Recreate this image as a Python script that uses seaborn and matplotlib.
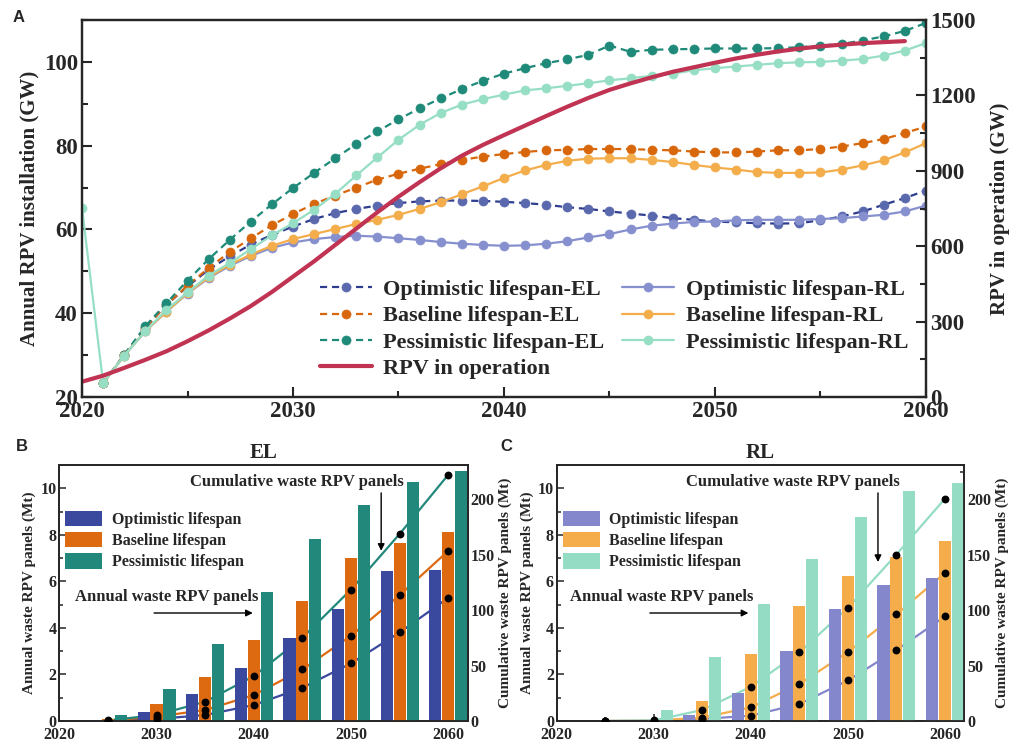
import matplotlib
matplotlib.use("Agg")
import matplotlib.pyplot as plt
from matplotlib.patches import Patch
from matplotlib.ticker import MultipleLocator
import numpy as np
import seaborn as sns

# ---- panel A data (GW) ----
years = list(range(2021, 2061))
opt_el = [23.3, 30.0, 36.5, 42.0, 46.4, 50.4, 53.6, 56.4, 58.7, 60.7,
          62.5, 63.9, 64.9, 65.7, 66.3, 66.7, 66.9, 66.9, 66.8, 66.6,
          66.3, 65.9, 65.3, 64.9, 64.3, 63.8, 63.3, 62.7, 62.3, 61.9,
          61.7, 61.5, 61.4, 61.5, 62.2, 63.1, 64.3, 65.9, 67.5, 69.3]
base_el = [23.3, 30.0, 36.5, 42.0, 46.6, 50.8, 54.6, 57.9, 61.0, 63.7,
           66.1, 68.1, 70.0, 71.9, 73.3, 74.5, 75.6, 76.6, 77.4, 78.0,
           78.5, 78.9, 79.0, 79.2, 79.2, 79.2, 79.0, 78.9, 78.6, 78.4,
           78.4, 78.6, 78.9, 78.9, 79.2, 79.8, 80.6, 81.6, 83.0, 84.6]
pess_el = [23.3, 30.1, 36.9, 42.4, 47.8, 52.9, 57.5, 61.9, 66.0, 69.9,
           73.5, 77.0, 80.4, 83.4, 86.3, 88.9, 91.3, 93.5, 95.5, 97.2,
           98.5, 99.7, 100.6, 101.7, 103.9, 102.4, 102.9, 103.0, 103.1, 103.2,
           103.2, 103.2, 103.3, 103.5, 103.9, 104.3, 105.1, 106.1, 107.4, 109.3]
opt_rl = [23.3, 29.9, 35.7, 40.4, 44.7, 48.4, 51.3, 53.7, 55.6, 56.9,
          57.7, 58.2, 58.5, 58.3, 57.9, 57.5, 57.0, 56.6, 56.3, 56.1,
          56.2, 56.6, 57.2, 58.1, 58.9, 60.0, 60.9, 61.4, 61.8, 61.9,
          62.2, 62.3, 62.3, 62.3, 62.5, 62.7, 63.1, 63.5, 64.3, 65.7]
base_rl = [23.3, 29.9, 35.7, 40.4, 44.8, 48.6, 51.6, 54.0, 56.1, 57.7,
           58.9, 60.1, 61.3, 62.3, 63.5, 64.9, 66.5, 68.4, 70.3, 72.3,
           74.1, 75.4, 76.4, 76.9, 77.0, 77.0, 76.6, 76.1, 75.4, 74.8,
           74.3, 73.7, 73.5, 73.5, 73.6, 74.3, 75.3, 76.5, 78.4, 80.6]
pess_rl_years = list(range(2020, 2061))
pess_rl = [65.1, 23.3, 29.9, 35.7, 40.8, 45.0, 49.0, 52.0, 55.3, 58.6, 61.5,
           64.7, 68.5, 72.9, 77.2, 81.4, 85.0, 87.8, 89.8, 91.1, 92.2,
           93.2, 93.7, 94.3, 94.9, 95.6, 96.1, 96.7, 97.2, 98.0, 98.5,
           98.9, 99.3, 99.7, 99.9, 100.0, 100.3, 100.7, 101.5, 102.7, 104.5]
op_years = list(range(2020, 2060))
rpv_op = [61, 85, 116, 148, 182, 222, 265, 312, 362, 418,
          479, 540, 605, 670, 735, 797, 855, 910, 960, 1003,
          1042, 1080, 1118, 1155, 1190, 1222, 1248, 1272, 1294, 1312,
          1330, 1347, 1362, 1375, 1386, 1395, 1402, 1408, 1412, 1416]

# ---- panels B, C data (Mt) ----
waste_years = [2025, 2030, 2035, 2040, 2045, 2050, 2055, 2060]
el_annual_opt = [0.05, 0.40, 1.16, 2.28, 3.58, 4.81, 6.45, 6.50]
el_annual_base = [0.10, 0.72, 1.91, 3.50, 5.16, 7.02, 7.64, 8.14]
el_annual_pess = [0.26, 1.39, 3.30, 5.56, 7.84, 9.26, 10.26, 10.73]
el_cum_opt = [0.3, 1.8, 5.4, 14.4, 30.0, 52.0, 79.9, 111.1]
el_cum_base = [0.4, 3.9, 9.9, 23.4, 46.5, 76.9, 113.5, 153.5]
el_cum_pess = [0.5, 5.4, 17.4, 40.5, 75.1, 118.6, 168.8, 222.2]
rl_annual_opt = [0.0, 0.02, 0.26, 1.19, 2.99, 4.83, 5.86, 6.16]
rl_annual_base = [0.0, 0.05, 0.86, 2.87, 4.94, 6.23, 7.06, 7.75]
rl_annual_pess = [0.0, 0.47, 2.77, 5.03, 6.95, 8.78, 9.90, 10.21]
rl_cum_opt = [0.0, 0.2, 1.8, 4.8, 15.3, 36.6, 64.0, 94.3]
rl_cum_base = [0.0, 0.3, 3.0, 12.3, 33.3, 62.2, 96.1, 133.6]
rl_cum_pess = [0.0, 0.5, 9.9, 30.9, 61.9, 102.1, 150.2, 200.6]

scenarios = ["Optimistic lifespan", "Baseline lifespan", "Pessimistic lifespan"]
el_colors = ["#3a489e", "#dd6a10", "#22887b"]
rl_colors = ["#8487cb", "#f5ad4c", "#94dcc3"]

sns.set_theme(style="ticks")
plt.rcParams["font.family"] = ["Liberation Serif", "DejaVu Serif"]
plt.rcParams["font.weight"] = "bold"
plt.rcParams["axes.labelweight"] = "bold"
plt.rcParams["axes.titleweight"] = "bold"

fig = plt.figure(figsize=(10.1, 7.41), dpi=100)

# ================= panel A =================
axA = fig.add_axes([0.0812, 0.4642, 0.8356, 0.5088])
axA2 = axA.twinx()

dash = (0, (3.2, 2.2))
line_specs = [
    (opt_el, "#2e3d8f", "#5a69ae", dash, "Optimistic lifespan-EL"),
    (base_el, "#d8670c", "#d8670c", dash, "Baseline lifespan-EL"),
    (pess_el, "#1f8a79", "#1f8a79", dash, "Pessimistic lifespan-EL"),
    (opt_rl, "#8790cf", "#8790cf", "-", "Optimistic lifespan-RL"),
    (base_rl, "#f3ad4b", "#f3ad4b", "-", "Baseline lifespan-RL"),
]
handles = {}
for vals, lc, mc, ls, name in line_specs:
    sns.lineplot(x=years, y=vals, ax=axA, color=lc, linestyle=ls, lw=1.6,
                 marker="o", markersize=6.5, markerfacecolor=mc,
                 markeredgecolor=mc, markeredgewidth=0.5, legend=False)
    handles[name] = axA.lines[-1]
sns.lineplot(x=pess_rl_years, y=pess_rl, ax=axA, color="#96dec4", lw=1.6,
             marker="o", markersize=6.5, markerfacecolor="#96dec4",
             markeredgecolor="#96dec4", markeredgewidth=0.5, legend=False)
handles["Pessimistic lifespan-RL"] = axA.lines[-1]

sns.lineplot(x=op_years, y=rpv_op, ax=axA2, color="#c13352", lw=3.0, legend=False)
handles["RPV in operation"] = axA2.lines[-1]

axA.set_xlim(2020, 2060)
axA.set_ylim(20, 110)
axA2.set_ylim(0, 1500)
axA.set_xticks([2020, 2030, 2040, 2050, 2060])
axA.set_yticks([20, 40, 60, 80, 100])
axA2.set_yticks([0, 300, 600, 900, 1200, 1500])
axA.xaxis.set_minor_locator(MultipleLocator(5))
axA.yaxis.set_minor_locator(MultipleLocator(10))
axA2.yaxis.set_minor_locator(MultipleLocator(150))
for a in (axA, axA2):
    a.tick_params(which="both", direction="in", width=1.5, labelsize=16.5, pad=3)
    a.tick_params(which="major", length=7)
    a.tick_params(which="minor", length=4)
    for s in a.spines.values():
        s.set_linewidth(1.6)
axA.tick_params(axis="x", pad=3)
axA.set_xlabel("")
axA.set_ylabel("Annual RPV installation (GW)", fontsize=15, labelpad=3)
axA2.set_ylabel("RPV in operation (GW)", fontsize=15, labelpad=10)

order = ["Optimistic lifespan-EL", "Baseline lifespan-EL", "Pessimistic lifespan-EL",
         "RPV in operation", "Optimistic lifespan-RL", "Baseline lifespan-RL",
         "Pessimistic lifespan-RL"]
axA2.legend([handles[k] for k in order], order, ncol=2, loc="upper left",
            bbox_to_anchor=(0.282, 0.312), frameon=False, fontsize=16,
            handlelength=2.35, handletextpad=0.5, labelspacing=0.26,
            columnspacing=0.8, borderpad=0, borderaxespad=0)


# ================= panels B, C =================
def waste_panel(rect, title, annual, cum, colors, ann_x, cum_x, arr_x, arr_y1):
    ax = fig.add_axes(rect)
    axb = ax.twinx()
    axd = ax.twinx()
    ax.yaxis.tick_right()
    ax.yaxis.set_label_position("right")
    axb.yaxis.tick_left()
    axb.yaxis.set_label_position("left")

    # cumulative lines (behind bars)
    for vals, c in zip(cum, colors):
        sns.lineplot(x=waste_years, y=vals, ax=ax, color=c, lw=1.6, legend=False)
    # annual bars
    offsets = [-1.33, 0.0, 1.33]
    for vals, c, off in zip(annual, colors, offsets):
        axb.bar(np.array(waste_years) + off, vals, width=1.25, color=c, lw=0)
    # cumulative points
    sns.scatterplot(x=waste_years * 3, y=cum[0] + cum[1] + cum[2], ax=axd,
                    color="black", s=32, linewidth=0, legend=False, zorder=5)

    ax.set_xlim(2020, 2062)
    ax.set_ylim(0, 231)
    axd.set_ylim(0, 231)
    axb.set_ylim(0, 11)
    axd.set_axis_off()
    ax.set_xticks([2020, 2030, 2040, 2050, 2060])
    ax.xaxis.set_minor_locator(MultipleLocator(5))
    ax.set_yticks([0, 50, 100, 150, 200])
    ax.yaxis.set_minor_locator(MultipleLocator(25))
    axb.set_yticks([0, 2, 4, 6, 8, 10])
    axb.yaxis.set_minor_locator(MultipleLocator(1))
    for a in (ax, axb):
        a.tick_params(which="both", direction="in", width=1.1, labelsize=11.5, pad=2)
        a.tick_params(which="major", length=5)
        a.tick_params(which="minor", length=3)
        for s in a.spines.values():
            s.set_linewidth(1.3)
    ax.tick_params(axis="x", top=False, pad=4)
    ax.set_xlabel("")
    ax.set_ylabel("Cumulative waste RPV panels (Mt)", fontsize=11, labelpad=3)
    axb.set_ylabel("Annual waste RPV panels (Mt)", fontsize=11, labelpad=3)
    axb.set_title(title, fontsize=15, pad=5)

    leg_handles = [Patch(facecolor=c, edgecolor="none") for c in colors]
    axb.legend(leg_handles, scenarios, loc="upper left", bbox_to_anchor=(0.015, 0.82),
               frameon=False, fontsize=11.5, handlelength=2.3, handleheight=1.1,
               handletextpad=0.6, labelspacing=0.25, borderpad=0, borderaxespad=0)

    axb.text(cum_x, 10.27, "Cumulative waste RPV panels", ha="center", va="center",
             fontsize=12)
    axb.annotate("", xy=(arr_x, arr_y1), xytext=(arr_x, 9.8),
                 arrowprops=dict(arrowstyle="-|>", color="black", lw=1.0,
                                 mutation_scale=10, shrinkA=0, shrinkB=0))
    axb.text(ann_x, 5.33, "Annual waste RPV panels", ha="center", va="center",
             fontsize=12)
    axb.annotate("", xy=(ann_x + 8.9, 4.64), xytext=(ann_x - 1.25, 4.64),
                 arrowprops=dict(arrowstyle="-|>", color="black", lw=1.0,
                                 mutation_scale=10, shrinkA=0, shrinkB=0))


waste_panel([0.0587, 0.027, 0.4044, 0.3455], "EL",
            [el_annual_opt, el_annual_base, el_annual_pess],
            [el_cum_opt, el_cum_base, el_cum_pess], el_colors,
            2031.0, 2044.4, 2053.1, 7.31)
waste_panel([0.5512, 0.027, 0.4036, 0.3455], "RL",
            [rl_annual_opt, rl_annual_base, rl_annual_pess],
            [rl_cum_opt, rl_cum_base, rl_cum_pess], rl_colors,
            2030.85, 2044.3, 2053.1, 6.83)

# panel letters
for x, y, t in [(0.018, 0.976, "A"), (0.022, 0.397, "B"), (0.501, 0.397, "C")]:
    fig.text(x, y, t, ha="center", va="center", fontsize=12, fontweight="bold",
             family=["Liberation Sans", "DejaVu Sans"])

fig.savefig("out.png", dpi=100)
